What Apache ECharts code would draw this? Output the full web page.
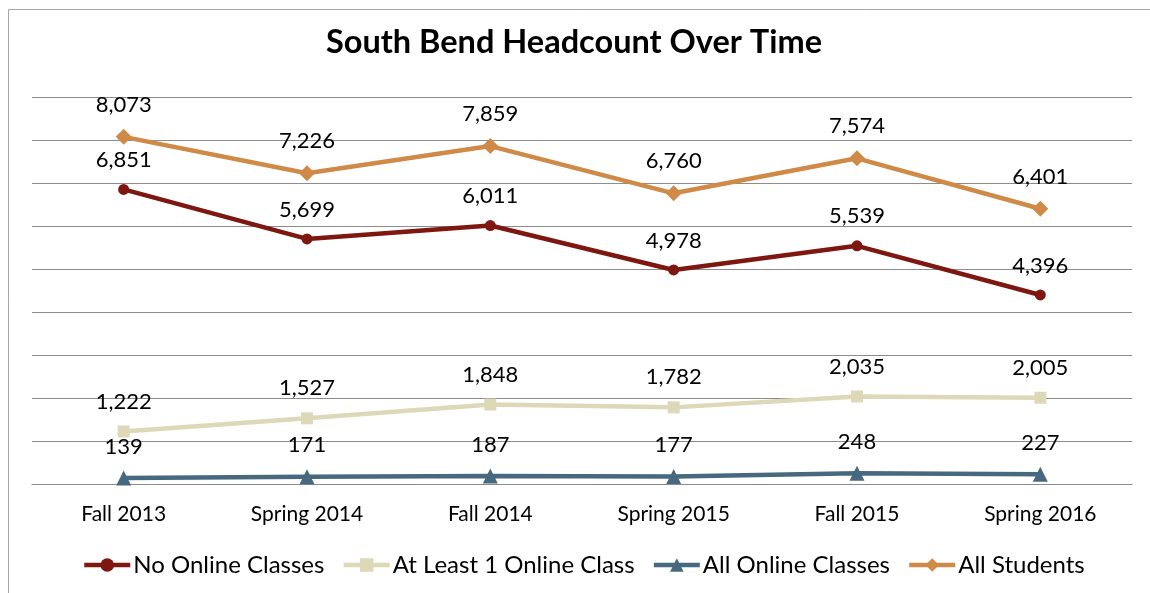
<!DOCTYPE html>
<html>
<head>
<meta charset="utf-8">
<script src="https://cdn.jsdelivr.net/npm/echarts@6/dist/echarts.min.js"></script>
<style>html,body{margin:0;padding:0;background:#fff;}#c{width:1150px;height:593px;}</style>
</head>
<body>
<div id="c"></div>
<script>
const categories = ['Fall 2013','Spring 2014','Fall 2014','Spring 2015','Fall 2015','Spring 2016'];
const noOnline = [6851, 5699, 6011, 4978, 5539, 4396];
const atLeastOne = [1222, 1527, 1848, 1782, 2035, 2005];
const allOnline = [139, 171, 187, 177, 248, 227];
const allStudents = [8073, 7226, 7859, 6760, 7574, 6401];

const FONT = 'Lato, "Open Sans", sans-serif';
const fmt = p => p.value.toLocaleString('en-US');

function mk(name, data, color, symbol, size) {
  return {
    name, type: 'line', data, symbol, symbolSize: size,
    lineStyle: {color, width: 4.5},
    itemStyle: {color},
    label: {show: true, position: 'top', distance: 13, formatter: fmt,
      fontFamily: FONT, fontSize: 22, color: '#000'},
    emphasis: {disabled: true},
    z: 3
  };
}

const chart = echarts.init(document.getElementById('c'), null, {renderer: 'canvas'});
chart.setOption({
  animation: false,
  backgroundColor: '#fff',
  title: {
    text: 'South Bend Headcount Over Time', left: 569, textAlign: 'center', top: 21,
    textStyle: {fontFamily: FONT, fontSize: 32.5, fontWeight: 'bold', color: '#000'}
  },
  graphic: [{type: 'rect', shape: {x: 8.5, y: 9.5, width: 1200, height: 700},
    style: {fill: 'none', stroke: '#a6a6a6', lineWidth: 1}, silent: true}],
  legend: {
    left: 77, top: 548, itemWidth: 46, itemHeight: 17, itemGap: 17,
    lineStyle: {width: 4.5},
    textStyle: {fontFamily: FONT, fontSize: 24, color: '#000', padding: [0, 0, 0, -2]},
    data: ['No Online Classes', 'At Least 1 Online Class', 'All Online Classes', 'All Students']
  },
  grid: {left: 32, right: 18, top: 97, bottom: 109, containLabel: false},
  xAxis: {
    type: 'category', data: categories, boundaryGap: true,
    axisLine: {show: true, lineStyle: {color: '#8c8c8c', width: 1}},
    axisTick: {show: false},
    axisLabel: {margin: 20, fontFamily: FONT, fontSize: 21, color: '#000'}
  },
  yAxis: {
    type: 'value', min: 0, max: 9000, interval: 1000,
    axisLabel: {show: false}, axisLine: {show: false}, axisTick: {show: false},
    splitLine: {lineStyle: {color: '#8c8c8c', width: 1}}
  },
  series: [
    mk('No Online Classes', noOnline, '#7d1710', 'circle', 11),
    mk('At Least 1 Online Class', atLeastOne, '#ddd8b8', 'rect', 12),
    mk('All Online Classes', allOnline, '#46697f', 'triangle', 15),
    mk('All Students', allStudents, '#d08a48', 'diamond', 16)
  ]
});
</script>
</body>
</html>
